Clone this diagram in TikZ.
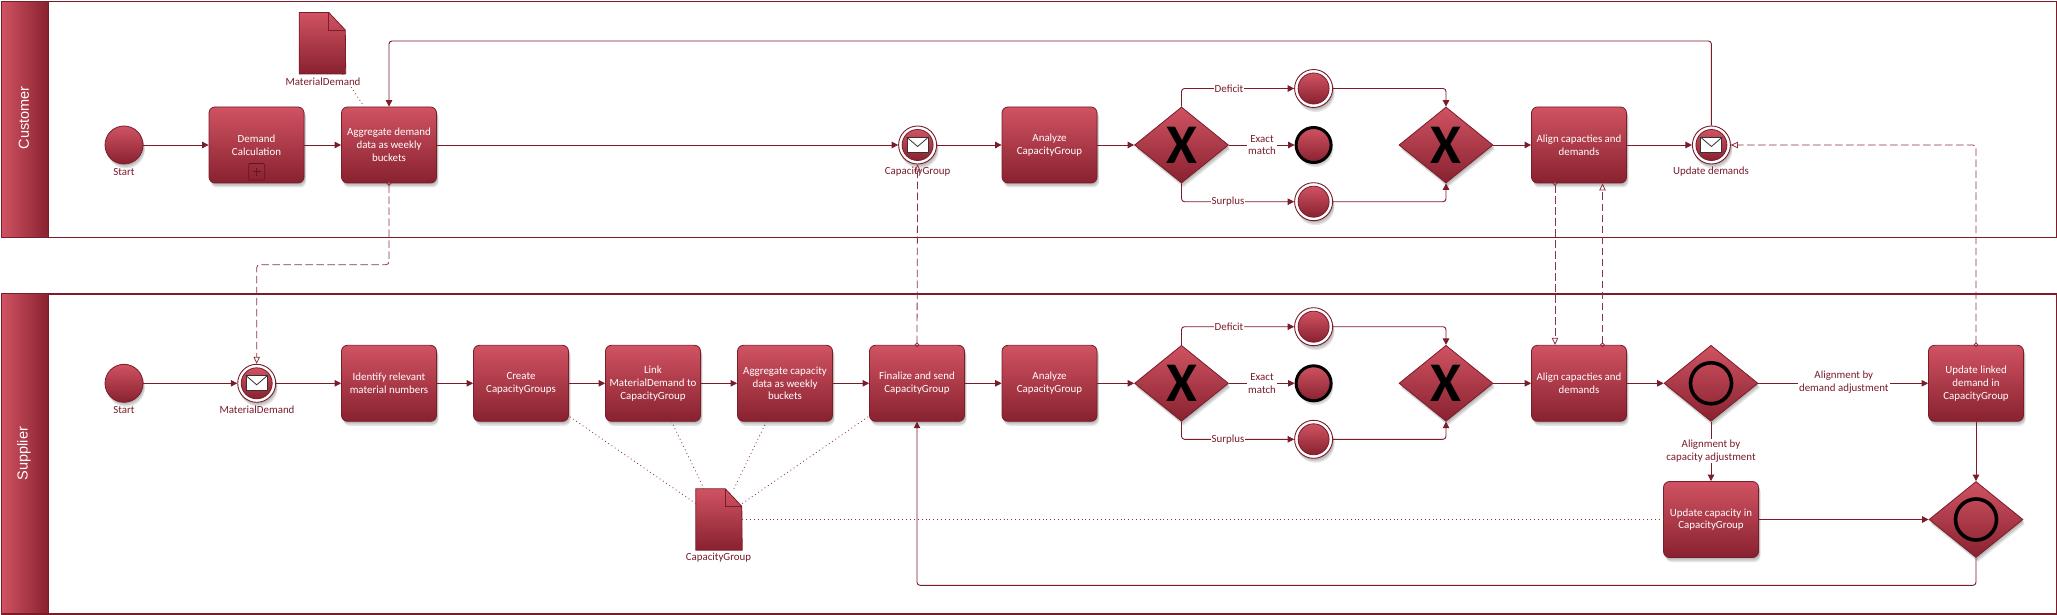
\documentclass[tikz,border=0pt]{standalone}
\usepackage{fontspec}
\setmainfont{Carlito}
\newfontfamily\lanefont{Liberation Sans}
\usetikzlibrary{shapes.geometric,shadows,arrows.meta}
\definecolor{ln}{HTML}{7A1C2A}
\definecolor{gtop}{HTML}{D05362}
\definecolor{gbot}{HTML}{88212F}
\definecolor{dashc}{HTML}{8C3342}
\tikzset{
  softsh/.style={general shadow={fill=black,opacity=.10,shadow xshift=1pt,shadow yshift=-1.5pt},
                 general shadow={fill=black,opacity=.10,shadow xshift=1.5pt,shadow yshift=-3pt},
                 general shadow={fill=black,opacity=.10,shadow xshift=2pt,shadow yshift=-4.5pt}},
  grad/.style={top color=gtop,bottom color=gbot,draw=ln,line width=.8pt},
  task/.style={grad,softsh,rectangle,rounded corners=6pt,minimum width=95pt,minimum height=76pt,inner sep=0pt,
     text=white,align=center,font=\fontsize{10.9}{12.8}\selectfont},
  gw/.style={grad,softsh,diamond,aspect=1.237,minimum width=94pt,minimum height=76pt,inner sep=0pt},
  xmark/.style={inner sep=0pt,text=black,font=\fontsize{56}{56}\selectfont\bfseries},
  ringmark/.style={circle,draw=black,line width=3.6pt,minimum size=41pt,inner sep=0pt},
  startev/.style={grad,softsh,circle,minimum size=38pt,inner sep=0pt},
  endev/.style={top color=gtop,bottom color=gbot,softsh,circle,draw=black,line width=3pt,minimum size=35pt,inner sep=0pt},
  evouter/.style={circle,fill=white,draw=ln,line width=.9pt,softsh,minimum size=38pt,inner sep=0pt},
  evinner/.style={grad,circle,minimum size=31pt,inner sep=0pt},
  env/.style={rectangle,fill=white,draw=black!80,line width=.9pt,minimum width=21pt,minimum height=15pt,inner sep=0pt},
  captxt/.style={inner sep=0pt,text=ln,align=center,font=\fontsize{10.9}{12.8}\selectfont},
  lab/.style={captxt,fill=white,inner sep=1pt},
  lane/.style={draw=ln,line width=1.1pt,fill=white},
  lanehead/.style={left color=gtop,right color=gbot,draw=ln,line width=.8pt},
  lanetxt/.style={rotate=90,text=white,inner sep=0pt,font=\lanefont\fontsize{14.5}{16}\selectfont},
  docbox/.style={rectangle,minimum width=46pt,minimum height=61pt,inner sep=0pt},
  docshape/.style={grad},
  flow/.style={draw=ln,line width=.9pt,rounded corners=3pt,-{Triangle[length=6.5pt,width=6.5pt,fill=ln]}},
  msg/.style={draw=dashc,line width=.8pt,dash pattern=on 7.5pt off 3.5pt,rounded corners=3pt,shorten <=-2.3pt,
     {Circle[open,length=4.6pt,width=4.6pt]}-{Triangle[open,length=7pt,width=6.5pt,fill=white]}},
  assoc/.style={draw=dashc,line width=.8pt,dash pattern=on .9pt off 3pt},
}
\newcommand{\msgev}[3]{%
  \node[evouter] (#1) at (#2,#3) {};
  \node[evinner] (#1i) at (#1) {};
  \node[env] (#1e) at (#1) {};
  \draw[black!80,line width=.8pt] (#1e.north west) -- ([yshift=-1.5pt]#1e.center) -- (#1e.north east);
}
\newcommand{\ringev}[3]{%
  \node[evouter] (#1) at (#2,#3) {};
  \node[evinner] (#1i) at (#1) {};
}
\begin{document}
\begin{tikzpicture}[x=1pt,y=-1pt]
\useasboundingbox (0,0) rectangle (2057,615);
\fill[white] (0,0) rectangle (2057,615);

% pools
\node[lane,line width=1.4pt,rectangle,minimum width=2055pt,minimum height=235.5pt,inner sep=0pt,anchor=north west] (poolC) at (1,1) {};
\node[lanehead,rectangle,minimum width=47pt,minimum height=235.5pt,inner sep=0pt,anchor=north west] (headC) at (1,1) {};
\node[lanetxt] (headCt) at (23.8,118) {Customer};
\node[lane,line width=1.7pt,rectangle,minimum width=2055pt,minimum height=320pt,inner sep=0pt,anchor=north west] (poolS) at (1,293) {};
\node[lanehead,rectangle,minimum width=47pt,minimum height=320pt,inner sep=0pt,anchor=north west] (headS) at (1,293) {};
\node[lanetxt] (headSt) at (23.8,453.5) {Supplier};

% documents
\node[docbox] (docM) at (322.5,43.2) {};
\path[docshape] (docM.north west) -- ++(29.5,0) -- ++(16.5,17.5) -- (docM.south east) -- (docM.south west) -- cycle;
\draw[ln,line width=.8pt] ([xshift=29.5pt]docM.north west) -- ++(0,17.5) -- ++(16.5,0);
\node[docbox] (docC) at (719,519.5) {};
\path[docshape] (docC.north west) -- ++(29.5,0) -- ++(16.5,17.5) -- (docC.south east) -- (docC.south west) -- cycle;
\draw[ln,line width=.8pt] ([xshift=29.5pt]docC.north west) -- ++(0,17.5) -- ++(16.5,0);

% customer lane
\node[startev] (st1) at (124,145) {};
\node[task] (dem) at (256.5,145) {Demand\\Calculation};
\node[rectangle,draw=ln!80!black,line width=.7pt,rounded corners=1pt,minimum width=16pt,minimum height=16.5pt,inner sep=0pt] (plusbox) at (256.7,171.7) {};
\draw[ln!80!black,line width=1pt] ([xshift=-4pt]plusbox.center) -- ([xshift=4pt]plusbox.center);
\draw[ln!80!black,line width=1pt] ([yshift=-4pt]plusbox.center) -- ([yshift=4pt]plusbox.center);
\node[task] (agg) at (389,145) {Aggregate demand\\data as weekly\\buckets};
\msgev{m1}{917.6}{145}
\node[task] (an1) at (1049.5,145) {Analyze\\CapacityGroup};
\node[gw] (gw1) at (1181.5,145) {};
\node[xmark] (gw1x) at (gw1) {X};
\ringev{ev1}{1313.6}{88.5}
\node[endev] (ev2) at (1313.6,145) {};
\ringev{ev3}{1313.6}{201.7}
\node[gw] (gw2) at (1446,145) {};
\node[xmark] (gw2x) at (gw2) {X};
\node[task] (al1) at (1579,145) {Align capacties and\\demands};
\msgev{m3}{1711.4}{145}

% supplier lane
\node[startev] (st2) at (124,383.3) {};
\msgev{m2}{256.7}{383.3}
\node[task] (ident) at (389,383.3) {Identify relevant\\material numbers};
\node[task] (create) at (521,383.3) {Create\\CapacityGroups};
\node[task] (link) at (653,383.3) {Link\\MaterialDemand to\\CapacityGroup};
\node[task] (aggc) at (785,383.3) {Aggregate capacity\\data as weekly\\buckets};
\node[task] (fin) at (917,383.3) {Finalize and send\\CapacityGroup};
\node[task] (an2) at (1049.5,383.3) {Analyze\\CapacityGroup};
\node[gw] (gw3) at (1181.5,383.3) {};
\node[xmark] (gw3x) at (gw3) {X};
\ringev{ev4}{1313.6}{326.7}
\node[endev] (ev5) at (1313.6,383.3) {};
\ringev{ev6}{1313.6}{439.3}
\node[gw] (gw4) at (1446,383.3) {};
\node[xmark] (gw4x) at (gw4) {X};
\node[task] (al2) at (1579,383.3) {Align capacties and\\demands};
\node[gw] (gwo) at (1711,383.3) {};
\node[ringmark] (gwor) at (gwo) {};
\node[task] (updl) at (1976,383.3) {Update linked\\demand in\\CapacityGroup};
\node[task] (updc) at (1711,519.5) {Update capacity in\\CapacityGroup};
\node[gw] (gwc) at (1976,519.5) {};
\node[ringmark] (gwcr) at (gwc) {};

% bend points
\coordinate (fb) at (1000,41);
\coordinate (rt) at (1400,585.3);
\coordinate (b1) at (320,264.7);

% associations
\draw[assoc] (docM) -- (agg);
\draw[assoc] (docC) -- (create);
\draw[assoc] (docC) -- (link);
\draw[assoc] (docC) -- (aggc);
\draw[assoc] (docC) -- (fin);
\draw[assoc] (docC) -- (updc);

% sequence flows, customer
\draw[flow] (st1) -- (dem);
\draw[flow] (dem) -- (agg);
\draw[flow] (agg) -- (m1);
\draw[flow] (m1) -- (an1);
\draw[flow] (an1) -- (gw1);
\draw[flow] (gw1.north) |- (ev1.west);
\draw[flow] (gw1.east) -- (ev2.west);
\draw[flow] (gw1.south) |- (ev3.west);
\draw[flow] (ev1.east) -| (gw2.north);
\draw[flow] (ev3.east) -| (gw2.south);
\draw[flow] (gw2.east) -- (al1.west);
\draw[flow] (al1) -- (m3);
\draw[flow] (m3.north) |- (fb) -| (agg.north);

% sequence flows, supplier
\draw[flow] (st2) -- (m2);
\draw[flow] (m2) -- (ident);
\draw[flow] (ident) -- (create);
\draw[flow] (create) -- (link);
\draw[flow] (link) -- (aggc);
\draw[flow] (aggc) -- (fin);
\draw[flow] (fin) -- (an2);
\draw[flow] (an2) -- (gw3);
\draw[flow] (gw3.north) |- (ev4.west);
\draw[flow] (gw3.east) -- (ev5.west);
\draw[flow] (gw3.south) |- (ev6.west);
\draw[flow] (ev4.east) -| (gw4.north);
\draw[flow] (ev6.east) -| (gw4.south);
\draw[flow] (gw4.east) -- (al2.west);
\draw[flow] (al2) -- (gwo.west);
\draw[flow] (gwo.east) -- (updl.west);
\draw[flow] (gwo.south) -- (updc.north);
\draw[flow] (updl.south) -- (gwc.north);
\draw[flow] (updc.east) -- (gwc.west);
\draw[flow] (gwc.south) |- (rt) -| (fin.south);

% message flows
\draw[msg] (agg.south) |- (b1) -| (m2.north);
\draw[msg] (fin.north) -- (m1.south);
\draw[msg] ([xshift=-24pt]al1.south) -- ([xshift=-24pt]al2.north);
\draw[msg] ([xshift=23.5pt]al2.north) -- ([xshift=23.5pt]al1.south);
\draw[msg] (updl.north) |- (m3.east);

% captions
\node[lab] (capDocM) at (323,82) {MaterialDemand};
\node[captxt] (capSt1) at (124,172) {Start};
\node[captxt] (capM1) at (917.6,172) {CapacityGroup};
\node[captxt] (capM3) at (1711,172) {Update demands};
\node[captxt] (capSt2) at (124,410) {Start};
\node[captxt] (capM2) at (257,410) {MaterialDemand};
\node[captxt] (capDocC) at (718.5,558) {CapacityGroup};

% flow labels
\node[lab] (lDef1) at (1229,88.5) {Deficit};
\node[lab] (lSur1) at (1228,201.7) {Surplus};
\node[lab] (lExa1) at (1262,145) {Exact\\match};
\node[lab] (lDef2) at (1229,326.7) {Deficit};
\node[lab] (lSur2) at (1228,439.3) {Surplus};
\node[lab] (lExa2) at (1262,383.3) {Exact\\match};
\node[lab] (lDem) at (1843.8,382.5) {Alignment by\\demand adjustment};
\node[lab] (lCap) at (1711,451) {Alignment by\\capacity adjustment};
\end{tikzpicture}
\end{document}
